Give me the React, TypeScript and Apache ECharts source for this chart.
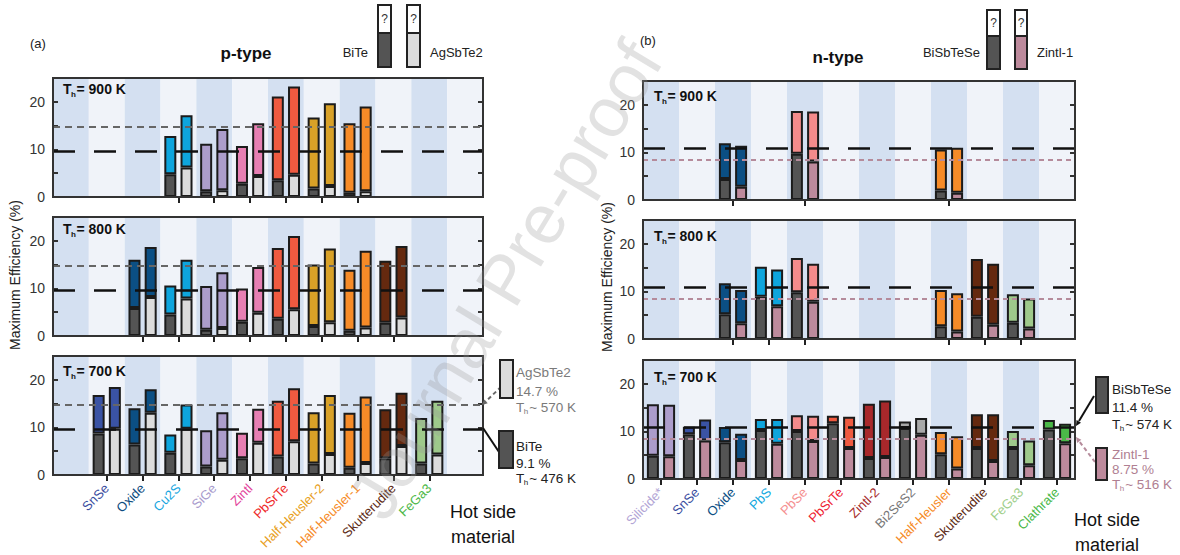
import React, { useEffect, useRef } from 'react';
import * as echarts from 'echarts';

// ---------------- p-type (panel a) ----------------
const pCategories = ['', 'SnSe', 'Oxide', 'Cu2S', 'SiGe', 'Zintl', 'PbSrTe', 'Half-Heusler-2', 'Half-Heusler-1', 'Skutterudite', 'FeGa3', ''];
const pBarColors = ['#000', '#3a53a4', '#0b4f84', '#0ea5dd', '#ac9dcb', '#e77fb3', '#ef5a40', '#d9a127', '#f68b28', '#65290f', '#9ec98b', '#000'];
const pLabelColors = ['#000', '#3b4ea0', '#0e4c80', '#19a6e0', '#a99bcd', '#e2439c', '#ee2a2a', '#e8a11e', '#f68b28', '#5c2a14', '#4db848', '#000'];

const p900BiTeBase = [null, null, null, 4.8, 1.2, 2.8, 3.5, 1.8, 0.9, null, null, null];
const p900BiTeTotal = [null, null, null, 12.8, 11.2, 10.7, 21.1, 16.7, 15.5, null, null, null];
const p900AgBase = [null, null, null, 6.2, 1.4, 4.4, 4.7, 2.3, 1.2, null, null, null];
const p900AgTotal = [null, null, null, 17.2, 14.3, 15.5, 23.2, 19.7, 19.0, null, null, null];

const p800BiTeBase = [null, null, 5.9, 4.5, 1.3, 3.0, 3.6, 2.1, 1.1, 2.8, null, null];
const p800BiTeTotal = [null, null, 16.0, 10.6, 10.5, 10.0, 18.5, 15.0, 13.9, 15.8, null, null];
const p800AgBase = [null, null, 8.2, 7.9, 1.7, 4.9, 5.6, 2.9, 1.8, 3.9, null, null];
const p800AgTotal = [null, null, 18.7, 16.0, 13.4, 14.5, 21.0, 18.4, 17.9, 18.9, null, null];

const p700BiTeBase = [null, 8.7, 6.4, 4.7, 1.8, 3.5, 3.9, 2.4, 1.5, 3.5, 2.4, null];
const p700BiTeTotal = [null, 16.8, 14.0, 8.5, 9.4, 8.9, 15.6, 13.2, 13.1, 13.8, 12.0, null];
const p700AgBase = [null, 9.7, 13.1, 9.7, 3.2, 6.8, 7.1, 4.4, 2.5, 6.1, 4.3, null];
const p700AgTotal = [null, 18.5, 18.0, 14.8, 13.2, 13.9, 18.2, 16.8, 16.5, 17.3, 15.6, null];

const pBiTeRefLine = 9.7;
const pAgRefLine = 14.8;

// ---------------- n-type (panel b) ----------------
const nCategories = ['Silicide*', 'SnSe', 'Oxide', 'PbS', 'PbSe', 'PbSrTe', 'Zintl-2', 'Bi2SeS2', 'Half-Heusler', 'Skutterudite', 'FeGa3', 'Clathrate'];
const nBarColors = ['#ac9dcb', '#3a53a4', '#0b4f84', '#0ea5dd', '#f48b8b', '#ef5a40', '#a8282b', '#a8a8a8', '#f68b28', '#65290f', '#9ec98b', '#4ab848'];
const nLabelColors = ['#b3a6d6', '#3a4ea0', '#0b4f84', '#11a8e0', '#f59090', '#ee2233', '#a52a2a', '#777777', '#f68b28', '#5c2a14', '#9fcf8c', '#4ab848'];

const n900BiSbBase = [null, null, 4.4, null, 9.7, null, null, null, 2.0, null, null, null];
const n900BiSbTotal = [null, null, 11.9, null, 18.7, null, null, null, 10.6, null, null, null];
const n900ZintlBase = [null, null, 2.8, null, 8.1, null, null, null, 1.5, null, null, null];
const n900ZintlTotal = [null, null, 11.4, null, 18.6, null, null, null, 11.0, null, null, null];

const n800BiSbBase = [null, null, 5.2, 8.9, 9.8, null, null, null, 2.7, 4.7, 3.4, null];
const n800BiSbTotal = [null, null, 11.7, 15.2, 17.0, null, null, null, 10.3, 16.8, 9.4, null];
const n800ZintlBase = [null, null, 3.3, 6.9, 7.8, null, null, null, 1.6, 3.0, 2.2, null];
const n800ZintlTotal = [null, null, 10.3, 14.6, 15.8, null, null, null, 9.6, 15.8, 8.5, null];

const n700BiSbBase = [4.9, 9.4, 7.7, 10.3, 10.1, 11.7, 4.4, 10.7, 5.2, 6.5, 6.5, 10.4];
const n700BiSbTotal = [15.7, 11.0, 10.9, 12.6, 13.4, 13.3, 15.8, 12.1, 9.9, 13.6, 10.1, 12.4];
const n700ZintlBase = [4.8, 8.1, 4.0, 7.4, 8.0, 6.5, 4.6, 9.3, 2.2, 3.8, 2.9, 7.5];
const n700ZintlTotal = [15.6, 12.5, 9.5, 12.6, 13.3, 13.1, 16.5, 12.8, 9.0, 13.6, 8.1, 11.6];

const nBiSbRefLine = 10.9;
const nZintlRefLine = 8.5;

const FF = '"Liberation Sans", Arial, Helvetica, sans-serif';

const panels = [
  { cats: pCategories, barColors: pBarColors, labelColors: pLabelColors, bl: p900BiTeBase, tl: p900BiTeTotal, br: p900AgBase, tr: p900AgTotal, left: 53, top: 78, width: 430, height: 119, temp: '= 900 K', tx: 63, ty: 89, labels: false, kind: 'p' },
  { cats: pCategories, barColors: pBarColors, labelColors: pLabelColors, bl: p800BiTeBase, tl: p800BiTeTotal, br: p800AgBase, tr: p800AgTotal, left: 53, top: 217, width: 430, height: 119, temp: '= 800 K', tx: 63, ty: 229, labels: false, kind: 'p' },
  { cats: pCategories, barColors: pBarColors, labelColors: pLabelColors, bl: p700BiTeBase, tl: p700BiTeTotal, br: p700AgBase, tr: p700AgTotal, left: 53, top: 356, width: 430, height: 119, temp: '= 700 K', tx: 63, ty: 371, labels: true, kind: 'p' },
  { cats: nCategories, barColors: nBarColors, labelColors: nLabelColors, bl: n900BiSbBase, tl: n900BiSbTotal, br: n900ZintlBase, tr: n900ZintlTotal, left: 643, top: 81, width: 432, height: 119, temp: '= 900 K', tx: 654, ty: 96, labels: false, kind: 'n' },
  { cats: nCategories, barColors: nBarColors, labelColors: nLabelColors, bl: n800BiSbBase, tl: n800BiSbTotal, br: n800ZintlBase, tr: n800ZintlTotal, left: 643, top: 220, width: 432, height: 119, temp: '= 800 K', tx: 654, ty: 236, labels: false, kind: 'n' },
  { cats: nCategories, barColors: nBarColors, labelColors: nLabelColors, bl: n700BiSbBase, tl: n700BiSbTotal, br: n700ZintlBase, tr: n700ZintlTotal, left: 643, top: 360, width: 432, height: 119, temp: '= 700 K', tx: 654, ty: 377, labels: true, kind: 'n' },
];

function txt(x: number, y: number, text: string, o: any = {}) {
  const align = o.align || 'left';
  const va = o.va || 'middle';
  return {
    type: 'text', x, y, z: o.z || 60, silent: true, rotation: o.rotation || 0,
    style: {
      text, fill: o.fill || '#222', fontSize: o.fontSize || 13, fontWeight: o.fontWeight || 'normal',
      fontFamily: FF, align, verticalAlign: va, textAlign: align, textVerticalAlign: va,
    },
  };
}

function thLabel(x: number, y: number, rest: string, fs: number, fill: string, bold: boolean) {
  const w = bold ? 'bold' : 'normal';
  const sub = Math.round(fs * 0.58);
  const tW = fs * 0.611;
  return [
    txt(x, y, 'T', { fontSize: fs, fontWeight: w, fill }),
    txt(x + tW - 0.5, y + fs * 0.36, 'h', { fontSize: sub, fontWeight: w, fill }),
    txt(x + tW + sub * 0.556 + 0.5, y, rest, { fontSize: fs, fontWeight: w, fill }),
  ];
}

function rect(x: number, y: number, w: number, h: number, fill: string, stroke = '#222', lw = 2, z = 60) {
  return { type: 'rect', z, silent: true, shape: { x, y, width: w, height: h }, style: { fill, stroke, lineWidth: lw } };
}

function line(x1: number, y1: number, x2: number, y2: number, stroke: string, lw = 2, dash: any = null) {
  const style: any = { stroke, lineWidth: lw };
  if (dash) style.lineDash = dash;
  return { type: 'line', z: 60, silent: true, shape: { x1, y1, x2, y2 }, style };
}

function arrowHead(x1: number, y1: number, x2: number, y2: number, fill: string, size = 6) {
  const a = Math.atan2(y2 - y1, x2 - x1);
  const p1 = [x2 - size * Math.cos(a - 0.45), y2 - size * Math.sin(a - 0.45)];
  const p2 = [x2 - size * Math.cos(a + 0.45), y2 - size * Math.sin(a + 0.45)];
  return { type: 'polygon', z: 60, silent: true, shape: { points: [[x2, y2], p1, p2] }, style: { fill } };
}

function legendBox(x: number, y: number, w: number, whiteH: number, colH: number, fill: string) {
  return [
    rect(x, y, w, whiteH, '#ffffff', '#222', 2),
    rect(x, y + whiteH, w, colH, fill, '#222', 2),
    txt(x + w / 2, y + whiteH / 2, '?', { fontSize: 12, align: 'center', fill: '#333' }),
  ];
}

function buildOption() {
  const border = { borderColor: '#1b1b1b', borderWidth: 2 };
  const refLines = (kind: string) => kind === 'p'
    ? [
      { yAxis: pBiTeRefLine, lineStyle: { color: '#111', width: 2.5, type: [22, 19] } },
      { yAxis: pAgRefLine, lineStyle: { color: '#666', width: 2, type: [7, 5] } },
    ]
    : [
      { yAxis: nBiSbRefLine, lineStyle: { color: '#111', width: 2.5, type: [22, 19] } },
      { yAxis: nZintlRefLine, lineStyle: { color: '#b58b9b', width: 2, type: [5, 4] } },
    ];

  const series: any[] = [];
  panels.forEach((p, i) => {
    const common = { type: 'bar', xAxisIndex: i, yAxisIndex: 2 * i, barWidth: 12, barGap: '35%' };
    const rightBaseColor = p.kind === 'p' ? '#dcdcdc' : '#bd8a9c';
    const top = (t: any[], b: any[]) => t.map((v, k) => (v == null ? '-' : { value: +(v - b[k]).toFixed(2), itemStyle: { color: p.barColors[k] } }));
    series.push({
      ...common, stack: 'L' + i, data: p.bl.map((v) => (v == null ? '-' : v)),
      itemStyle: { color: '#545454', ...border },
      markLine: { silent: true, symbol: 'none', label: { show: false }, data: refLines(p.kind) },
    });
    series.push({ ...common, stack: 'L' + i, data: top(p.tl, p.bl), itemStyle: { ...border } });
    series.push({ ...common, stack: 'R' + i, data: p.br.map((v) => (v == null ? '-' : v)), itemStyle: { color: rightBaseColor, ...border } });
    series.push({ ...common, stack: 'R' + i, data: top(p.tr, p.br), itemStyle: { ...border } });
  });

  const graphic: any[] = [];
  panels.forEach((p) => {
    graphic.push(rect(p.left, p.top, p.width, p.height, 'transparent', '#333', 2, 40));
    graphic.push(...thLabel(p.tx, p.ty, p.temp, 14, '#111', true));
  });

  // panel headings and legends
  graphic.push(txt(30, 43, '(a)', { fontSize: 13 }));
  graphic.push(txt(246, 53, 'p-type', { fontSize: 17, fontWeight: 'bold', align: 'center', fill: '#111' }));
  graphic.push(txt(368, 52, 'BiTe', { fontSize: 13, align: 'right' }));
  graphic.push(...legendBox(378, 5, 13, 28, 34, '#545454'));
  graphic.push(...legendBox(407, 5, 13, 28, 34, '#dcdcdc'));
  graphic.push(txt(430, 52, 'AgSbTe2', { fontSize: 13 }));

  graphic.push(txt(640, 40, '(b)', { fontSize: 13 }));
  graphic.push(txt(838, 57, 'n-type', { fontSize: 17, fontWeight: 'bold', align: 'center', fill: '#111' }));
  graphic.push(txt(980, 52, 'BiSbTeSe', { fontSize: 13, align: 'right' }));
  graphic.push(...legendBox(987, 10, 13, 26, 33, '#545454'));
  graphic.push(...legendBox(1015, 10, 12, 26, 33, '#bd8a9c'));
  graphic.push(txt(1037, 52, 'Zintl-1', { fontSize: 13 }));

  // y-axis names
  graphic.push(txt(15, 275, 'Maximum Efficiency (%)', { fontSize: 14, align: 'center', rotation: Math.PI / 2, fill: '#222' }));
  graphic.push(txt(607, 277, 'Maximum Efficiency (%)', { fontSize: 14, align: 'center', rotation: Math.PI / 2, fill: '#222' }));

  // "Hot side material"
  graphic.push(txt(483, 512, 'Hot side', { fontSize: 18, align: 'center', fill: '#111' }));
  graphic.push(txt(483, 537, 'material', { fontSize: 18, align: 'center', fill: '#111' }));
  graphic.push(txt(1107, 520, 'Hot side', { fontSize: 18, align: 'center', fill: '#111' }));
  graphic.push(txt(1107, 545, 'material', { fontSize: 18, align: 'center', fill: '#111' }));

  // left annotations
  graphic.push(line(483, 404, 502, 386, '#666', 2, [4, 3]));
  graphic.push(arrowHead(502, 386, 482, 405, '#666'));
  graphic.push(rect(500, 360, 13, 38, '#dcdcdc'));
  graphic.push(txt(516, 372, 'AgSbTe2', { fontSize: 13.5, fill: '#7a7a7a' }));
  graphic.push(txt(516, 391, '14.7 %', { fontSize: 13.5, fill: '#7a7a7a' }));
  graphic.push(...thLabel(516, 407, '~ 570 K', 13.5, '#7a7a7a', false));
  graphic.push(line(483, 428, 499, 452, '#111', 2));
  graphic.push(rect(499, 431, 14, 37, '#545454'));
  graphic.push(txt(516, 446, 'BiTe', { fontSize: 13.5, fill: '#222' }));
  graphic.push(txt(516, 463, '9.1 %', { fontSize: 13.5, fill: '#222' }));
  graphic.push(...thLabel(516, 478, '~ 476 K', 13.5, '#222', false));

  // right annotations
  graphic.push(line(1094, 396, 1079, 421, '#111', 2));
  graphic.push(arrowHead(1094, 396, 1076, 426, '#111'));
  graphic.push(rect(1096, 377, 12, 36, '#545454'));
  graphic.push(txt(1112, 389, 'BiSbTeSe', { fontSize: 13.5, fill: '#222' }));
  graphic.push(txt(1112, 407, '11.4 %', { fontSize: 13.5, fill: '#222' }));
  graphic.push(...thLabel(1112, 424, '~ 574 K', 13.5, '#222', false));
  graphic.push(line(1095, 462, 1079, 441, '#b58b9b', 2, [4, 3]));
  graphic.push(arrowHead(1095, 462, 1076, 437, '#b58b9b'));
  graphic.push(rect(1096, 448, 11, 32, '#bd8a9c'));
  graphic.push(txt(1112, 454, 'Zintl-1', { fontSize: 13.5, fill: '#b07f92' }));
  graphic.push(txt(1112, 469, '8.75 %', { fontSize: 13.5, fill: '#b07f92' }));
  graphic.push(...thLabel(1112, 484, '~ 516 K', 13.5, '#b07f92', false));

  // watermark
  graphic.push({
    type: 'text', x: 505, y: 280, z: 200, silent: true, rotation: (59 * Math.PI) / 180,
    style: { text: 'Journal Pre-proof', fontSize: 70, fontFamily: FF, fill: 'rgba(150,150,150,0.28)', align: 'center', verticalAlign: 'middle', textAlign: 'center', textVerticalAlign: 'middle' },
  });

  return {
    animation: false,
    backgroundColor: '#ffffff',
    textStyle: { fontFamily: FF },
    grid: panels.map((p) => ({ left: p.left, top: p.top, width: p.width, height: p.height, show: false })),
    xAxis: panels.map((p, i) => ({
      type: 'category', gridIndex: i, data: p.cats, boundaryGap: true,
      axisLine: { show: false },
      axisTick: {
        show: true, alignWithLabel: true, length: 6,
        interval: (idx: number) => p.tl[idx] != null,
        lineStyle: { color: '#222', width: 2 },
      },
      axisLabel: p.labels
        ? { show: true, interval: 0, rotate: 45, fontSize: 13, margin: 11, fontFamily: FF, color: (_v: any, idx: number) => p.labelColors[idx] }
        : { show: false },
      splitLine: { show: false },
      splitArea: { show: true, interval: 0, areaStyle: { color: ['#d4e0f1', '#f0f3f9'] } },
    })),
    yAxis: panels.flatMap((p, i) => [
      {
        type: 'value', gridIndex: i, min: 0, max: 25, interval: 5, position: 'left',
        axisLine: { show: false },
        axisTick: { show: true, inside: true, length: 5, lineStyle: { color: '#333', width: 2 } },
        axisLabel: { show: true, fontSize: 14, color: '#333', margin: 8, fontFamily: FF, formatter: (v: number) => (v % 10 === 0 ? String(v) : '') },
        splitLine: { show: false },
      },
      {
        type: 'value', gridIndex: i, min: 0, max: 25, interval: 5, position: 'right',
        axisLine: { show: false },
        axisTick: { show: true, inside: true, length: 5, lineStyle: { color: '#333', width: 2 } },
        axisLabel: { show: false },
        splitLine: { show: false },
      },
    ]),
    series,
    graphic,
  };
}

export default function App() {
  const ref = useRef<HTMLDivElement>(null);
  useEffect(() => {
    if (!ref.current) return;
    const chart = echarts.init(ref.current, null, { renderer: 'svg' });
    chart.setOption(buildOption() as any);
    return () => chart.dispose();
  }, []);
  return (
    <div
      ref={ref}
      style={{ position: 'fixed', left: 0, top: 0, width: 1180, height: 555, background: '#ffffff' }}
    />
  );
}
